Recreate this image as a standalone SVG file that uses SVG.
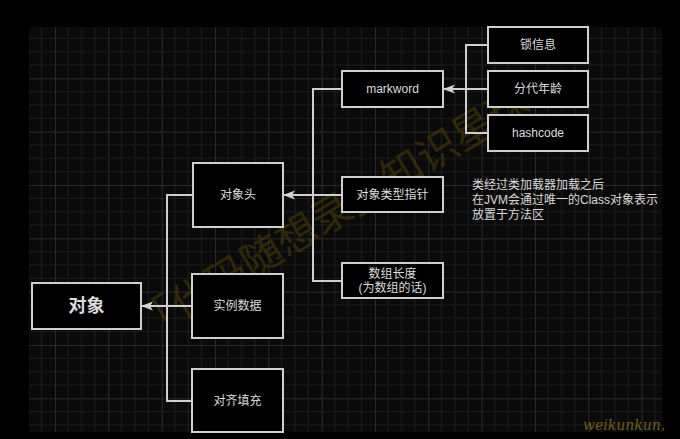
<svg xmlns="http://www.w3.org/2000/svg" width="680" height="439" viewBox="0 0 680 439">
<defs>
<pattern id="grid" patternUnits="userSpaceOnUse" x="1.67" y="25" width="53.33" height="53.33">
<path d="M13.33 0V53.33M26.67 0V53.33M40 0V53.33M0 13.33H53.33M0 26.67H53.33M0 40H53.33" stroke="#1c1c1c" stroke-width="1" fill="none"/>
<path d="M0.5 0V53.33M0 0.5H53.33" stroke="#2a2a2a" stroke-width="1" fill="none"/>
</pattern>
<marker id="arr" markerUnits="userSpaceOnUse" markerWidth="14" markerHeight="12" refX="12" refY="6" orient="auto">
<path d="M0 1.5L12 6L0 10.5L3 6Z" fill="#d4d4d4"/>
</marker>
</defs>
<style>
.box{fill:#000;stroke:#cfcfcf;stroke-width:2}
.lbl{font-family:"Liberation Sans","Noto Sans CJK SC",sans-serif;font-size:12px;fill:#dcdcdc;text-anchor:middle;dominant-baseline:central}
.big{font-size:18px;font-weight:bold}
.con{fill:none;stroke:#cfcfcf;stroke-width:2}
.note{font-family:"Liberation Sans","Noto Sans CJK SC",sans-serif;font-size:12px;fill:#d8d8d8}
</style>
<rect width="680" height="439" fill="#000"/>
<rect x="29" y="27" width="633" height="405" rx="2" fill="#0a0a0a"/>
<rect x="29" y="27" width="633" height="405" fill="url(#grid)"/>
<text x="0" y="0" transform="translate(146,342) rotate(-31)" font-family="'Noto Sans CJK SC',sans-serif" font-size="41" fill="#4a3d00" fill-opacity="0.6">「代码随想录」知识星球</text>
<g id="connectors">
<path class="con" d="M488 45H466V133H488"/>
<path class="con" d="M488 89H443" marker-end="url(#arr)"/>
<path class="con" d="M342 89H313V281H342"/>
<path class="con" d="M342 195H283" marker-end="url(#arr)"/>
<path class="con" d="M193 195H167V401H192"/>
<path class="con" d="M192 306H141" marker-end="url(#arr)"/>
</g>
<g id="n-obj"><rect class="box" x="32" y="283" width="109" height="46"/><text class="lbl big" x="86.5" y="306">对象</text></g>
<g id="n-header"><rect class="box" x="193" y="163" width="90" height="64"/><text class="lbl" x="238" y="195">对象头</text></g>
<g id="n-inst"><rect class="box" x="192" y="274" width="91" height="64"/><text class="lbl" x="237.5" y="306">实例数据</text></g>
<g id="n-pad"><rect class="box" x="192" y="369" width="91" height="63"/><text class="lbl" x="237.5" y="401">对齐填充</text></g>
<g id="n-mark"><rect class="box" x="342" y="71" width="101" height="36"/><text class="lbl" x="392.5" y="89">markword</text></g>
<g id="n-klass"><rect class="box" x="342" y="177" width="101" height="35"/><text class="lbl" x="392.5" y="195">对象类型指针</text></g>
<g id="n-arr"><rect class="box" x="342" y="263" width="101" height="35"/><text class="lbl" x="392.5" y="274">数组长度</text><text class="lbl" x="392.5" y="288">(为数组的话)</text></g>
<g id="n-lock"><rect class="box" x="488" y="27" width="100" height="36"/><text class="lbl" x="538" y="45">锁信息</text></g>
<g id="n-age"><rect class="box" x="488" y="71" width="100" height="36"/><text class="lbl" x="538" y="89">分代年龄</text></g>
<g id="n-hash"><rect class="box" x="488" y="115" width="100" height="36"/><text class="lbl" x="538" y="133">hashcode</text></g>
<g id="note">
<text class="note" x="472" y="189">类经过类加载器加载之后</text>
<text class="note" x="472" y="204">在JVM会通过唯一的Class对象表示</text>
<text class="note" x="472" y="219">放置于方法区</text>
</g>
<text x="583" y="430" font-family="'DejaVu Serif',serif" font-style="italic" font-size="14" fill="#6f5e10">weikunkun,</text>
</svg>
